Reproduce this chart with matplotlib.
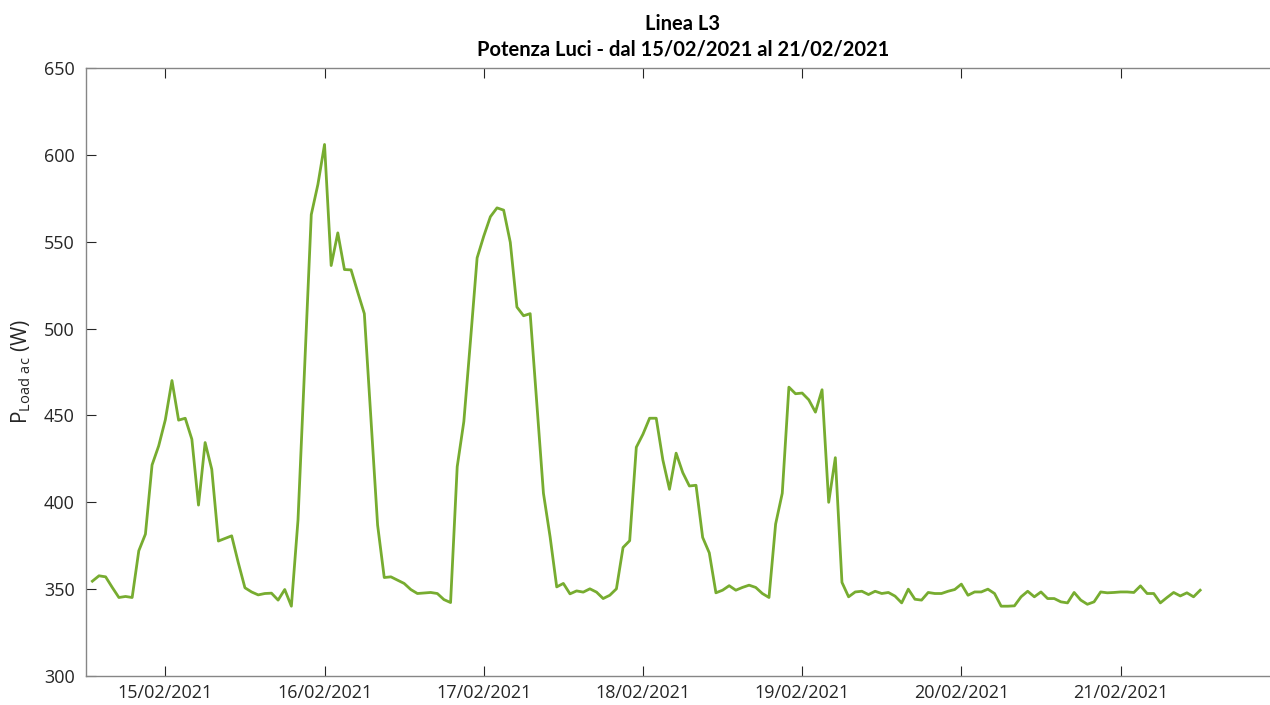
import numpy as np
import pandas as pd
import matplotlib
matplotlib.use("Agg")
import matplotlib.pyplot as plt
import matplotlib.dates as mdates

# Hourly light-load power, line L3 (W)
start_time = "2021-02-14 13:00"
power_w = [
    354.6, 357.7, 357.1, 351.0, 345.2, 345.8, 345.2, 372.1, 381.7, 421.5,
    432.5, 447.5, 470.1, 447.3, 448.4, 436.3, 398.4, 434.4, 419.0, 377.7,
    379.2, 380.7, 365.2, 350.8, 348.4, 346.7, 347.5, 347.7, 343.7, 349.8,
    340.2, 389.8, 477.0, 565.6, 583.0, 606.0, 536.3, 555.1, 534.0, 533.8,
    521.0, 508.6, 448.0, 386.9, 356.7, 357.1, 355.2, 353.3, 349.8, 347.5,
    347.8, 348.1, 347.5, 344.0, 342.3, 420.5, 446.5, 493.0, 540.7, 553.2,
    564.4, 569.5, 568.2, 549.7, 512.4, 507.4, 508.6, 457.0, 405.2, 380.2,
    351.3, 353.3, 347.3, 349.0, 348.3, 350.2, 348.3, 344.6, 346.5, 350.2,
    374.0, 377.9, 431.7, 439.2, 448.4, 448.4, 424.4, 407.5, 428.3, 417.1,
    409.4, 409.8, 379.8, 370.9, 347.9, 349.4, 352.0, 349.4, 351.0, 352.3,
    351.0, 347.5, 345.2, 387.5, 405.2, 466.3, 462.5, 462.9, 459.0, 451.9,
    464.8, 400.0, 425.7, 353.9, 345.6, 348.4, 348.8, 346.9, 348.8, 347.5,
    348.1, 346.0, 342.1, 350.0, 344.2, 343.7, 348.1, 347.5, 347.5, 348.8,
    349.8, 352.9, 346.5, 348.4, 348.4, 350.0, 347.5, 340.2, 340.2, 340.4,
    345.6, 348.8, 345.6, 348.4, 344.6, 344.6, 342.7, 342.1, 348.1, 343.7,
    341.3, 342.7, 348.4, 347.9, 348.1, 348.4, 348.4, 348.1, 351.9, 347.5,
    347.5, 342.1, 345.2, 348.1, 346.1, 347.9, 345.6, 349.4,
]
day_ticks = pd.date_range("2021-02-15", "2021-02-21", freq="D")
y_ticks = [300, 350, 400, 450, 500, 550, 600, 650]

times = pd.date_range(start_time, periods=len(power_w), freq="h")

plt.rcParams["font.family"] = ["Open Sans", "DejaVu Sans"]

fig = plt.figure(figsize=(12.7, 7.05), dpi=100)
# The box runs slightly past the right edge of the canvas
ax = fig.add_axes([0.0675, 0.0411, 0.9402, 0.8624])

ax.plot(times, power_w, color="#77AC30", linewidth=2.0)

ax.set_xlim(pd.Timestamp("2021-02-14 12:00"), pd.Timestamp("2021-02-22 00:00"))
ax.set_ylim(300, 650)
ax.set_yticks(y_ticks)
ax.set_xticks(day_ticks)
ax.xaxis.set_major_formatter(mdates.DateFormatter("%d/%m/%Y"))

axis_grey = "#868686"
text_grey = "#262626"
for side in ["left", "right", "top", "bottom"]:
    ax.spines[side].set_color(axis_grey)
    ax.spines[side].set_linewidth(1.0)
ax.tick_params(axis="both", which="major", direction="in", length=7.5,
               width=0.8, color=text_grey, labelsize=13, labelcolor=text_grey,
               top=True, right=True, pad=6)
ax.tick_params(axis="y", pad=8)

ax.set_ylabel(r"P$_{\mathregular{Load\ ac}}$ (W)", fontsize=15, color=text_grey,
              labelpad=8)
ax.set_title("Linea L3\nPotenza Luci - dal 15/02/2021 al 21/02/2021",
             fontsize=14.5, fontweight="bold", color="#000000",
             family=["Lato", "DejaVu Sans"], linespacing=1.35, pad=9)

fig.savefig("out.png", dpi=100)
